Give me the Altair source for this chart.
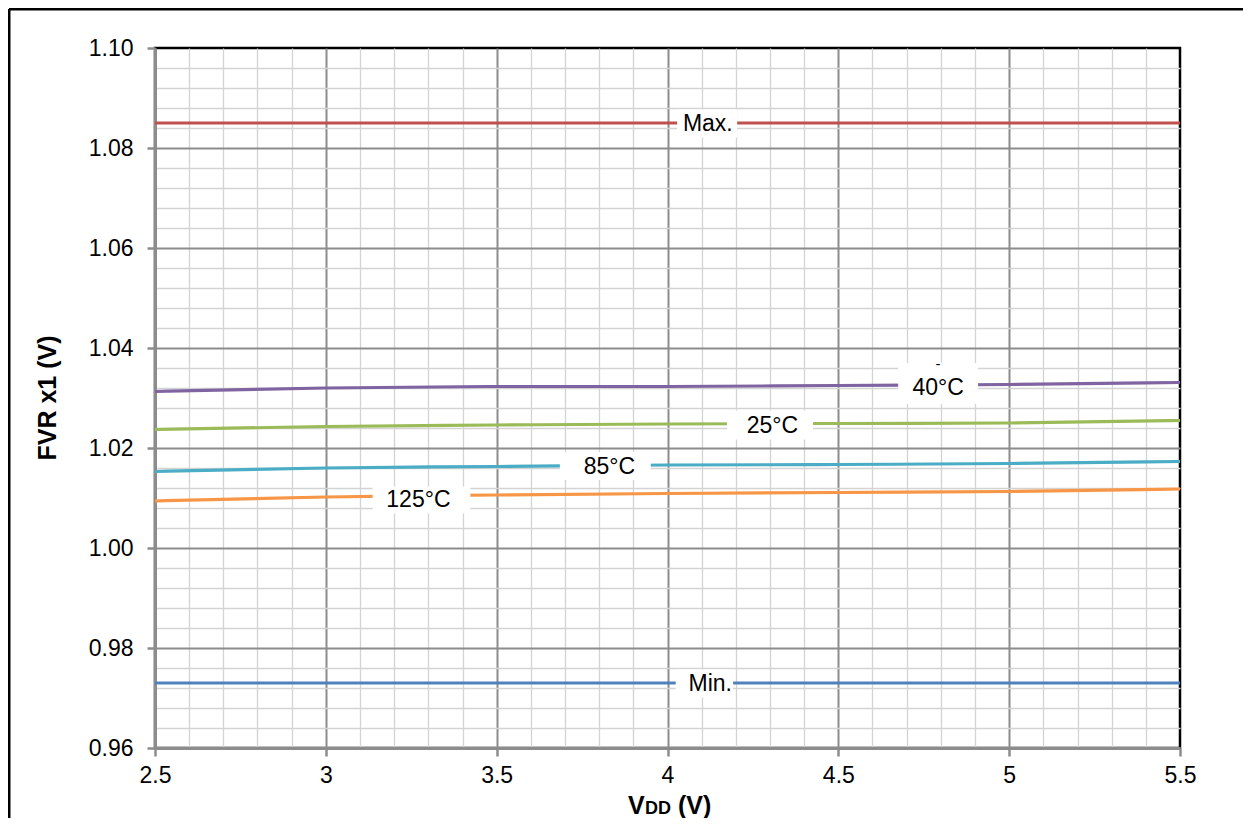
import altair as alt
import pandas as pd

# ---- data ----
vdd = [2.5, 3.0, 3.5, 4.0, 4.5, 5.0, 5.5]
fvr_max = [1.085, 1.085, 1.085, 1.085, 1.085, 1.085, 1.085]
fvr_m40 = [1.0313, 1.0320, 1.0323, 1.0323, 1.0325, 1.0327, 1.0331]
fvr_25 = [1.0237, 1.0243, 1.0246, 1.0248, 1.0249, 1.0250, 1.0255]
fvr_85 = [1.0153, 1.0160, 1.0163, 1.0166, 1.0167, 1.0169, 1.0173]
fvr_125 = [1.0094, 1.0102, 1.0106, 1.0109, 1.0111, 1.0113, 1.0118]
fvr_min = [0.973, 0.973, 0.973, 0.973, 0.973, 0.973, 0.973]

series_names = ["Max.", "-40°C", "25°C", "85°C", "125°C", "Min."]
series_vals = [fvr_max, fvr_m40, fvr_25, fvr_85, fvr_125, fvr_min]
series_colors = ["#C0504D", "#8064A2", "#9BBB59", "#4BACC6", "#F79646", "#4F81BD"]

# in-plot label annotations
lab_text = ["Max.", "Min.", "40°C", "25°C", "85°C", "125°C"]
lab_x = [4.118, 4.125, 4.792, 4.307, 3.830, 3.271]
lab_y = [1.0849, 0.9729, 1.0320, 1.0244, 1.0162, 1.0096]
box_x = [4.116, 4.108, 4.792, 4.300, 3.818, 3.280]
box_y = [1.0849, 0.9729, 1.0329, 1.0246, 1.0164, 1.0096]
box_hw = [0.088, 0.084, 0.117, 0.126, 0.133, 0.143]
box_hh = [0.0028, 0.0028, 0.0041, 0.0029, 0.0028, 0.0027]

x_ticks_major = [2.5, 3.0, 3.5, 4.0, 4.5, 5.0, 5.5]
y_ticks_major = [0.96, 0.98, 1.00, 1.02, 1.04, 1.06, 1.08, 1.10]

# ---- tables ----
rows = []
for name, vals in zip(series_names, series_vals):
    for xv, yv in zip(vdd, vals):
        rows.append({"series": name, "vdd": xv, "fvr": yv})
df = pd.DataFrame(rows)

labels = pd.DataFrame({"text": lab_text, "vdd": lab_x, "fvr": lab_y})
boxes = pd.DataFrame({"x": box_x, "y": box_y, "hw": box_hw, "hh": box_hh})
boxes["vdd"] = boxes["x"] - boxes["hw"]
boxes["vdd2"] = boxes["x"] + boxes["hw"]
boxes["fvr"] = boxes["y"] - boxes["hh"]
boxes["fvr2"] = boxes["y"] + boxes["hh"]

x_minor = [round(2.5 + 0.1 * i, 1) for i in range(31) if i % 5 != 0]
y_minor = [round(0.96 + 0.004 * i, 3) for i in range(36) if i % 5 != 0]

x_major_test = "abs(datum.value*2 - round(datum.value*2)) < 0.001"
y_major_test = "abs(datum.value*50 - round(datum.value*50)) < 0.001"

MAJOR = "#8c8c8c"
MINOR = "#d3d3d3"

xaxis = alt.Axis(
    values=x_minor + x_ticks_major,
    tickCount=500,
    title=None,
    grid=True,
    gridColor={"condition": {"test": x_major_test, "value": MAJOR}, "value": MINOR},
    gridWidth={"condition": {"test": x_major_test, "value": 2}, "value": 1.3},
    gridOpacity={"condition": {"test": "datum.value > 5.49", "value": 0}, "value": 1},
    ticks=True,
    tickSize=8,
    tickColor=MAJOR,
    tickWidth=2.5,
    tickOpacity={"condition": {"test": x_major_test, "value": 1}, "value": 0},
    labelExpr=f"{x_major_test} ? toString(round(datum.value*2)/2) : ''",
    labelFlush=False,
    labelOverlap=False,
    labelPadding=8,
    domainColor=MAJOR,
    domainWidth=3,
    orient="bottom",
)

yaxis = alt.Axis(
    values=y_minor + y_ticks_major,
    tickCount=500,
    title=None,
    grid=True,
    gridColor={"condition": {"test": y_major_test, "value": MAJOR}, "value": MINOR},
    gridWidth={"condition": {"test": y_major_test, "value": 2}, "value": 1.3},
    gridOpacity={"condition": {"test": "datum.value > 1.099", "value": 0}, "value": 1},
    ticks=True,
    tickSize=8,
    tickColor=MAJOR,
    tickWidth=2.5,
    tickOpacity={"condition": {"test": y_major_test, "value": 1}, "value": 0},
    labelExpr=f"{y_major_test} ? format(datum.value, '.2f') : ''",
    labelFlush=False,
    labelOverlap=False,
    labelPadding=14,
    domainColor=MAJOR,
    domainWidth=3,
    orient="left",
)

xscale = alt.Scale(domain=[2.5, 5.5], nice=False, zero=False)
yscale = alt.Scale(domain=[0.96, 1.10], nice=False, zero=False)

lines = alt.Chart(df).mark_line(strokeWidth=3.2, interpolate="monotone").encode(
    x=alt.X("vdd:Q", scale=xscale, axis=xaxis),
    y=alt.Y("fvr:Q", scale=yscale, axis=yaxis),
    color=alt.Color("series:N", scale=alt.Scale(domain=series_names, range=series_colors), legend=None),
)

box_layer = alt.Chart(boxes).mark_rect(fill="white").encode(
    x="vdd:Q",
    x2="vdd2:Q",
    y="fvr:Q",
    y2="fvr2:Q",
)

text_layer = alt.Chart(labels).mark_text(
    font="Liberation Sans", fontSize=23, color="black", align="center", baseline="middle"
).encode(
    x="vdd:Q",
    y="fvr:Q",
    text="text:N",
)

one = pd.DataFrame({"k": [0]})

dash = alt.Chart(one).mark_text(
    font="Liberation Sans", fontSize=15, color="black", align="center", baseline="middle"
).encode(
    x="vdd:Q",
    y="fvr:Q",
    text=alt.value("-"),
).transform_calculate(vdd="4.792", fvr="1.0368")

ytitle = alt.Chart(one).mark_text(
    font="Liberation Sans", fontSize=25, fontWeight="bold", color="black",
    angle=270, align="center", baseline="middle"
).encode(x=alt.value(-107), y=alt.value(350), text=alt.value("FVR x1 (V)"))

xt_v = alt.Chart(one).mark_text(
    font="Liberation Sans", fontSize=25, fontWeight="bold", color="black",
    align="left", baseline="alphabetic"
).encode(x=alt.value(473), y=alt.value(766), text=alt.value("V"))
xt_dd = alt.Chart(one).mark_text(
    font="Liberation Sans", fontSize=18, fontWeight="bold", color="black",
    align="left", baseline="alphabetic"
).encode(x=alt.value(490), y=alt.value(766), text=alt.value("DD"))
xt_rest = alt.Chart(one).mark_text(
    font="Liberation Sans", fontSize=25, fontWeight="bold", color="black",
    align="left", baseline="alphabetic"
).encode(x=alt.value(523), y=alt.value(766), text=alt.value("(V)"))

frame_left = alt.Chart(one).mark_rule(color="black", strokeWidth=3).encode(
    x=alt.value(-146), y=alt.value(-39), y2=alt.value(775)
)
frame_top = alt.Chart(one).mark_rule(color="black", strokeWidth=3).encode(
    x=alt.value(-146), x2=alt.value(1100), y=alt.value(-39)
)

chart = alt.layer(
    lines, box_layer, text_layer, dash, ytitle, xt_v, xt_dd, xt_rest, frame_left, frame_top
).properties(
    width=1025,
    height=700,
    autosize=alt.AutoSizeParams(type="none"),
    padding={"left": 147, "top": 40, "right": 63, "bottom": 70},
    background="white",
).configure_view(
    stroke="black", strokeWidth=2.5
).configure_axis(
    labelFont="Liberation Sans", labelFontSize=23, labelColor="black"
)

chart.save("out.html", embed_options={"renderer": "svg", "actions": False})
